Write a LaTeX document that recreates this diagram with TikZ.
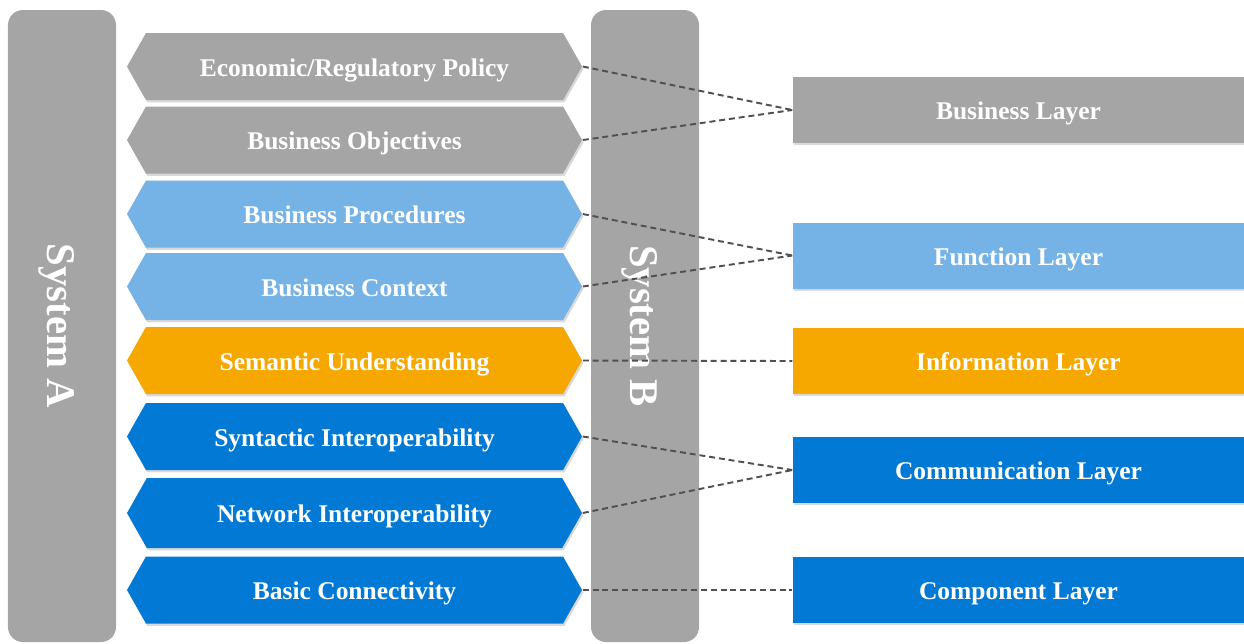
\documentclass[tikz,border=0pt]{standalone}
\usepackage{fontspec}
\setmainfont{Liberation Serif}
\usetikzlibrary{shapes.symbols,shadows}

\definecolor{greyfill}{HTML}{A5A5A5}
\definecolor{lightbluefill}{HTML}{75B2E6}
\definecolor{orangefill}{HTML}{F6A800}
\definecolor{bluefill}{HTML}{0179D5}
\definecolor{dashgrey}{HTML}{505050}

\tikzset{
  softshadow/.style={drop shadow={opacity=0.3,shadow xshift=0.4pt,shadow yshift=-0.7pt}},
  systembox/.style={rectangle, rounded corners=0.15cm, fill=greyfill, text=white,
    rotate=-90, minimum width=6.32cm, minimum height=1.08cm, inner sep=0pt,
    text height=10.7pt, text depth=2.55pt,
    font=\fontsize{11.6}{14}\selectfont\bfseries},
  hexbox/.style={signal, signal to=west and east, signal pointer angle=121,
    fill=#1, softshadow, text=white, minimum width=4.55cm, minimum height=0.67cm,
    inner sep=0pt, text height=5.8pt, text depth=0.36pt,
    font=\fontsize{7.25}{9}\selectfont\bfseries},
  layerbox/.style={rectangle, fill=#1, softshadow, text=white, minimum width=4.51cm,
    minimum height=0.66cm, inner sep=0pt, text height=5.8pt, text depth=0.36pt,
    font=\fontsize{7.25}{9}\selectfont\bfseries},
  link/.style={draw=dashgrey, line width=0.55pt, dash pattern=on 1.7pt off 1.1pt}
}

\begin{document}
\begin{tikzpicture}

   \useasboundingbox (0,0) rectangle (12.44,-6.43);

   \node (System-A) at (0.62,-3.26) [systembox] {System A};
   \node (System-B) at (6.45,-3.26) [systembox] {System B};

   \node (Economic-Regulatory-Policy) at (3.545,-0.665) [hexbox=greyfill] {Economic/Regulatory Policy};
   \node (Business-Objectives) at (3.545,-1.40) [hexbox=greyfill] {Business Objectives};
   \node (Business-Procedures) at (3.545,-2.14) [hexbox=lightbluefill] {Business Procedures};
   \node (Business-Context) at (3.545,-2.865) [hexbox=lightbluefill] {Business Context};
   \node (Semantic-Understanding) at (3.545,-3.605) [hexbox=orangefill] {Semantic Understanding};
   \node (Syntactic-Interoperability) at (3.545,-4.365) [hexbox=bluefill] {Syntactic Interoperability};
   \node (Network-Interoperability) at (3.545,-5.13) [hexbox=bluefill, minimum height=0.70cm] {Network Interoperability};
   \node (Basic-Connectivity) at (3.545,-5.90) [hexbox=bluefill] {Basic Connectivity};

   \node (Business-Layer) at (10.185,-1.10) [layerbox=greyfill] {Business Layer};
   \node (Function-Layer) at (10.185,-2.555) [layerbox=lightbluefill] {Function Layer};
   \node (Information-Layer) at (10.185,-3.61) [layerbox=orangefill] {Information Layer};
   \node (Communication-Layer) at (10.185,-4.70) [layerbox=bluefill] {Communication Layer};
   \node (Component-Layer) at (10.185,-5.90) [layerbox=bluefill] {Component Layer};

   \draw [link] (Economic-Regulatory-Policy.east) -- (Business-Layer.west);
   \draw [link] (Business-Objectives.east) -- (Business-Layer.west);

   \draw [link] (Business-Procedures.east) -- (Function-Layer.west);
   \draw [link] (Business-Context.east) -- (Function-Layer.west);

   \draw [link] (Semantic-Understanding.east) -- (Information-Layer.west);

   \draw [link] (Syntactic-Interoperability.east) -- (Communication-Layer.west);
   \draw [link] (Network-Interoperability.east) -- (Communication-Layer.west);

   \draw [link] (Basic-Connectivity.east) -- (Component-Layer.west);

\end{tikzpicture}
\end{document}
